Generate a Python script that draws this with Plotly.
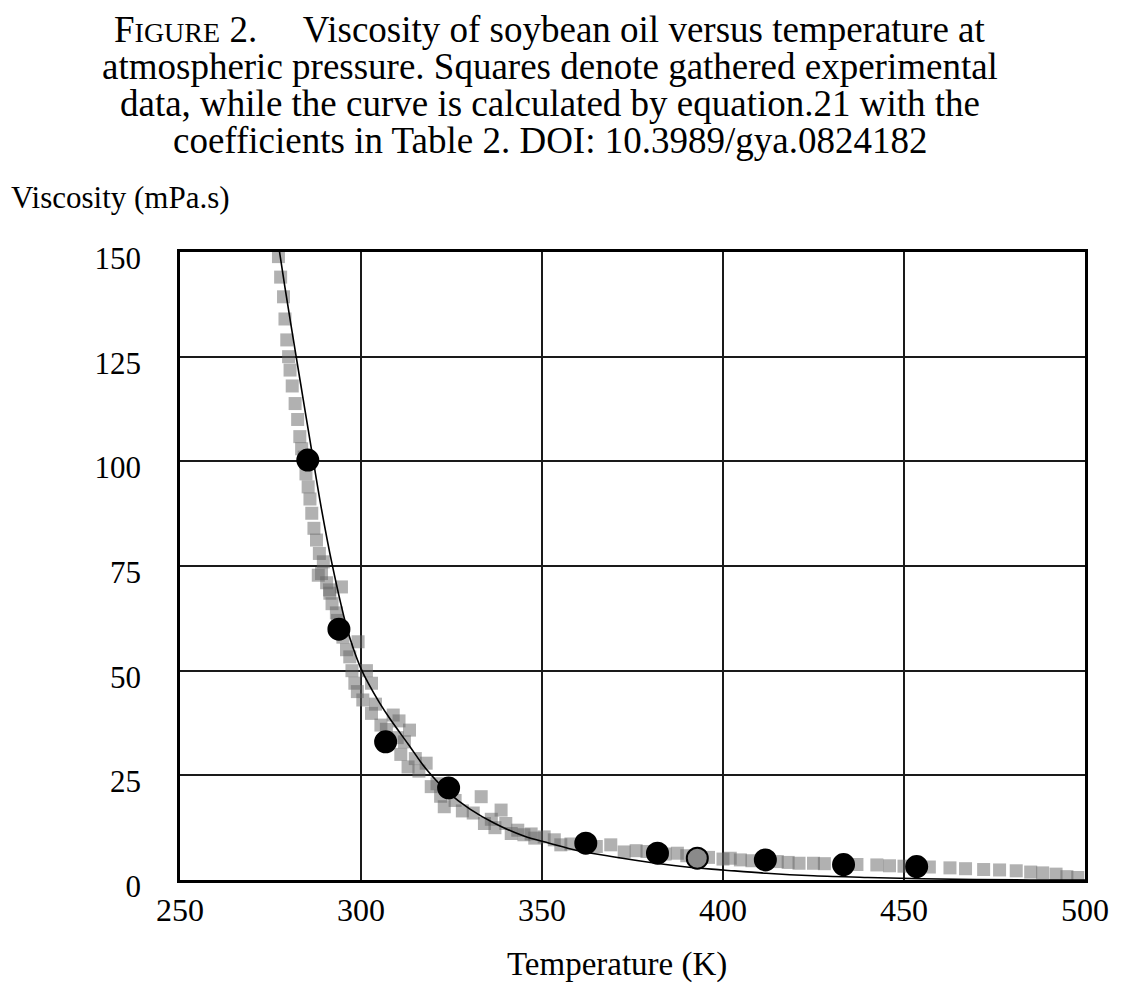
import plotly.graph_objects as go

# soybean oil viscosity vs temperature
# grey squares: gathered experimental data
square_T = [277.2, 277.8, 278.6, 279.0, 279.5, 280.0, 280.4, 281.0, 281.8, 282.5, 283.1,
            283.6, 284.3, 284.8, 285.4, 285.9, 286.4, 287.0, 287.7, 288.2, 288.5,
            289.1, 289.6, 290.5, 291.3, 291.4, 292.0, 293.2, 293.5, 294.6, 295.0,
            296.0, 296.9, 297.5, 298.3, 299.0, 299.2, 300.5, 301.5, 302.9, 302.9,
            304.0, 305.5, 307.0, 308.9, 310.0, 310.5, 311.0, 312.0, 313.0, 313.4,
            315.0, 316.0, 318.0, 319.4, 321.0, 322.0, 323.0, 326.0, 328.0, 331.0,
            333.2, 334.1, 336.0, 337.0, 338.7, 340.0, 341.5, 343.3, 345.0, 347.0,
            348.0, 350.6, 353.4, 355.2, 358.0, 365.0, 369.0, 372.7, 376.0, 379.0,
            384.0, 387.4, 390.0, 396.0, 400.0, 402.0, 404.8, 408.0, 415.0, 418.0,
            421.0, 425.0, 428.0, 437.0, 442.5, 446.0, 450.0, 457.0, 462.7, 467.0,
            472.0, 476.4, 481.0, 485.0, 488.3, 492.0, 495.0, 498.0]
square_V = [148.9, 144.0, 139.3, 134.0, 129.0, 125.0, 121.8, 118.0, 113.8, 110.0, 105.9,
            103.0, 101.0, 97.0, 93.9, 91.0, 87.6, 84.0, 81.2, 72.8, 78.0,
            73.2, 76.0, 71.0, 69.3, 68.5, 66.0, 63.8, 62.0, 70.0, 58.0,
            55.0, 53.3, 50.0, 47.0, 45.0, 56.9, 43.0, 50.0, 47.0, 39.8,
            42.0, 37.0, 36.0, 39.4, 34.0, 38.0, 30.0, 33.0, 27.0, 35.8,
            29.0, 26.0, 27.9, 22.3, 23.0, 20.0, 17.5, 19.0, 16.5, 16.0,
            19.9, 13.5, 14.5, 12.5, 16.7, 13.5, 11.1, 11.9, 10.8, 11.0,
            10.0, 10.3, 9.6, 8.4, 8.6, 8.0, 8.4, 6.7, 7.0, 6.8,
            6.2, 6.4, 5.8, 5.4, 5.0, 5.2, 4.8, 4.6, 4.4, 4.2,
            4.0, 4.0, 3.9, 3.7, 3.6, 3.4, 3.3, 3.1, 2.9, 2.7,
            2.5, 2.4, 2.2, 1.9, 1.7, 1.4, 0.8, 0.6]

# black circles
circle_T = [285.3, 293.9, 306.8, 324.2, 362.1, 381.9, 392.9, 411.7, 433.3, 453.5]
circle_V = [100.3, 59.9, 33.0, 22.0, 8.8, 6.4, 5.2, 4.8, 3.7, 3.2]

# curve from equation 21
curve_T = [277.5, 279, 282, 284, 286, 289, 292, 296, 298, 300, 302, 305, 308, 313, 318,
           324, 330, 337, 345, 352, 360, 370, 380, 390, 400, 412, 425, 440, 455, 470, 485, 500]
curve_V = [150, 141.5, 125.5, 115, 104.5, 89, 75.5, 60.5, 55, 50.5, 47, 42.5, 38.5, 32.5, 26.5,
           21, 17, 13.5, 10.5, 8.8, 7.0, 5.5, 4.2, 3.1, 2.4, 1.6, 1.0, 0.6, 0.3, 0.1, 0, 0]

title_lines = [
    "F<span style='font-size:28px'>IGURE</span> 2.\u00a0\u00a0\u00a0\u00a0 Viscosity of soybean oil versus temperature at",
    "atmospheric pressure. Squares denote gathered experimental",
    "data, while the curve is calculated by equation.21 with the",
    "coefficients in Table 2. DOI: 10.3989/gya.0824182",
]

serif = "Liberation Serif, Times New Roman, serif"


def px(x):
    return (x - 180) / 905


def py(y):
    return (880 - y) / 628


fig = go.Figure()
fig.add_trace(go.Scatter(
    x=square_T, y=square_V, mode="markers",
    marker=dict(symbol="square", size=13, color="rgba(100,100,100,0.5)", line=dict(width=0)),
    showlegend=False))
fig.add_trace(go.Scatter(
    x=curve_T, y=curve_V, mode="lines", line_shape="spline",
    line=dict(color="black", width=1.6), showlegend=False))
circle_colors = ["black"] * len(circle_T)
circle_colors[6] = "#8a8a8a"
fig.add_trace(go.Scatter(
    x=circle_T, y=circle_V, mode="markers",
    marker=dict(symbol="circle", size=21, color=circle_colors, line=dict(color="black", width=2)),
    showlegend=False))

ann = []
for i, txt in enumerate(title_lines):
    ann.append(dict(text=txt, x=px(550), y=py(29.5 + i * 37), xref="paper", yref="paper",
                    xanchor="center", yanchor="middle", showarrow=False,
                    font=dict(family=serif, size=37, color="black")))
ann.append(dict(text="Viscosity (mPa.s)", x=px(9), y=py(198), xref="paper", yref="paper",
                xanchor="left", yanchor="middle", showarrow=False,
                font=dict(family=serif, size=31, color="black")))
ann.append(dict(text="Temperature (K)", x=px(617), y=py(964), xref="paper", yref="paper",
                xanchor="center", yanchor="middle", showarrow=False,
                font=dict(family=serif, size=33, color="black")))

fig.update_layout(
    width=1132, height=983, autosize=False,
    margin=dict(l=172, r=55, t=244, b=111),
    paper_bgcolor="white", plot_bgcolor="white",
    font=dict(family=serif, color="black"),
    annotations=ann,
)
fig.update_xaxes(range=[250, 500], dtick=50, tick0=250, showgrid=True, gridcolor="#1a1a1a", gridwidth=2.2,
                 showline=True, linecolor="black", linewidth=2.5, mirror=True, zeroline=False,
                 ticks="", ticklabelstandoff=0, tickfont=dict(family=serif, size=32, color="black"))
fig.update_yaxes(range=[0, 150], dtick=25, tick0=0, showgrid=True, gridcolor="#1a1a1a", gridwidth=2.2,
                 showline=True, linecolor="black", linewidth=2.5, mirror=True, zeroline=False,
                 ticks="", ticklabelstandoff=30, ticklabelshift=6,
                 tickfont=dict(family=serif, size=31, color="black"))

fig.write_html("out.html")
